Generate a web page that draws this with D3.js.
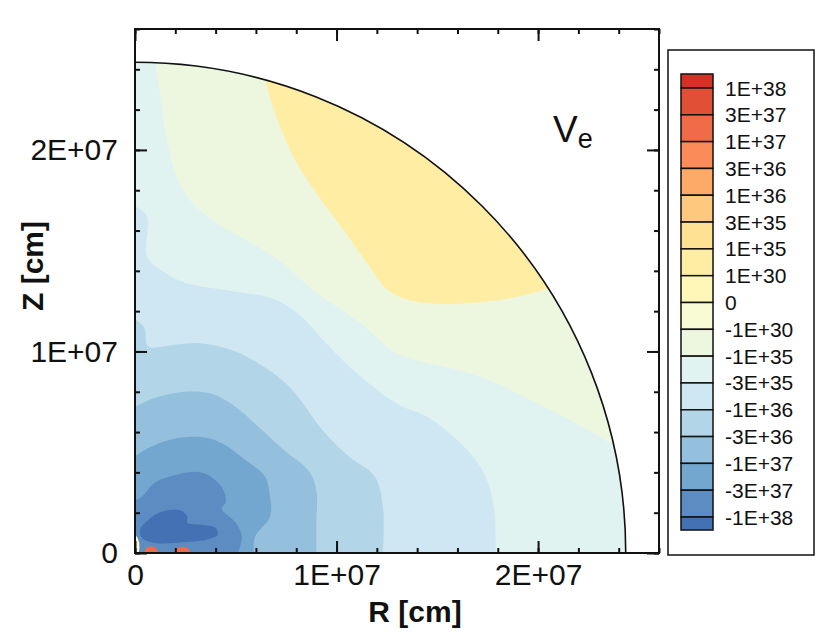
<!DOCTYPE html>
<html>
<head>
<meta charset="utf-8">
<script src="https://cdnjs.cloudflare.com/ajax/libs/d3/7.8.5/d3.min.js"></script>
<style>
body { margin: 0; background: #fff; }
text { font-family: "Liberation Sans", Arial, sans-serif; fill: #111; }
</style>
</head>
<body>
<script>
var w = 830;
var h = 636;

// colour bar levels, top to bottom
var levelLabels = ["1E+38", "3E+37", "1E+37", "3E+36", "1E+36", "3E+35", "1E+35", "1E+30", "0",
    "-1E+30", "-1E+35", "-3E+35", "-1E+36", "-3E+36", "-1E+37", "-3E+37", "-1E+38"];
// 18 bands: above the first level, between levels, below the last level
var bandColors = ["#d73027", "#e24f37", "#f16b48", "#fb8b58", "#fdaa69", "#fec87e", "#fee192",
    "#feeda3", "#fff7b8", "#f8fbd3", "#edf7e0", "#e1f3f1", "#cfe7f2", "#b3d5e8", "#94c0dd",
    "#74a7cf", "#5c8cc1", "#4471b4"];

var xTicks = [0, 1e7, 2e7];
var yTicks = [0, 1e7, 2e7];
var tickLabels = ["0", "1E+07", "2E+07"];

// outer boundary of the grid (1E+06 cm)
var rMax = 24.35;

// contour lines, [R, Z] in 1E+06 cm
// zero line: yellow (1E+30..1E+35) lies to the upper right
var lineZero = [[6.45, 23.5], [7.1, 21.4], [8.0, 19.4], [9.1, 17.7], [10.3, 16.1], [11.5, 14.4],
    [12.6, 13.0], [13.8, 12.5], [15.4, 12.35], [17.2, 12.45], [18.9, 12.7], [20.4, 13.1]];
// -1E+35: green lies to the upper right
var lineM1e35 = [[1.0, 24.3], [1.3, 22.5], [1.5, 21.0], [2.1, 18.6], [3.0, 17.2], [4.5, 16.1],
    [6.1, 15.2], [7.3, 14.4], [8.9, 13.0], [11.2, 11.4], [13.0, 9.9], [14.6, 9.4], [16.3, 9.0],
    [18.0, 8.4], [19.6, 7.6], [21.6, 6.6], [23.5, 5.5]];
// negative levels closing round the origin
var lineM3e35 = [[0, 17.2], [0.6, 16.7], [0.6, 14.7], [1.5, 13.9], [2.5, 13.4], [4.8, 13.0],
    [6.9, 12.6], [8.3, 11.7], [9.3, 10.6], [10.8, 9.1], [13.0, 7.4], [14.6, 6.7], [16.3, 5.3],
    [17.3, 4.0], [17.8, 2.3], [17.9, 0]];
var lineM1e36 = [[0, 11.6], [0.45, 11.2], [0.65, 10.25], [1.4, 10.25], [2.1, 10.35], [3.3, 10.4],
    [5.0, 10.0], [6.6, 9.1], [7.8, 8.1], [9.3, 6.1], [10.6, 4.8], [11.9, 3.8], [12.3, 2.3], [12.3, 0]];
var lineM3e36 = [[0, 7.25], [1.0, 7.7], [2.5, 8.0], [3.8, 7.9], [5.0, 7.25], [6.3, 6.1],
    [7.4, 5.1], [8.6, 4.1], [9.0, 3.1], [9.0, 1.5], [9.0, 0]];
var lineM1e37 = [[0, 4.8], [0.85, 5.3], [2.1, 5.7], [3.3, 5.75], [4.3, 5.45], [5.5, 4.6],
    [6.45, 3.8], [6.7, 2.8], [6.7, 1.8], [5.95, 0.8], [5.9, 0]];
var lineM3e37 = [[0, 2.6], [0.35, 2.8], [1.0, 3.5], [2.1, 3.9], [3.3, 4.0], [4.0, 3.6],
    [4.4, 3.1], [4.5, 2.5], [4.3, 2.2], [5.0, 1.5], [5.3, 0.8], [5.1, 0]];
var lineM1e38 = [[0.25, 1.15], [0.85, 1.8], [1.5, 2.1], [2.3, 2.1], [2.6, 1.8], [2.6, 1.5],
    [3.3, 1.4], [4.0, 1.25], [4.1, 0.9], [3.5, 0.65], [2.5, 0.55], [1.0, 0.5], [0.35, 0.75]];

// small spots on the equator near the centre: [R, Z, half width, half height] in 1E+06 cm
var spotR = [0.0, 0.8, 2.35];
var spotZ = [0.3, 0.05, 0.05];
var spotW = [0.22, 0.32, 0.38];
var spotH = [0.55, 0.28, 0.25];
var spotBand = [9, 2, 2];

drawChart();

function drawChart() {
    var svg = d3.select("body").append("svg")
        .attr("width", w)
        .attr("height", h);

    var x = d3.scaleLinear().domain([0, 2.6e7]).range([135, 659]);
    var y = d3.scaleLinear().domain([0, 2.6e7]).range([553, 29]);
    var u = 1e6;

    // ---- clip to the quarter disc ----
    var rx = x(rMax * u) - x(0);
    var ry = y(0) - y(rMax * u);
    var discPath = "M" + x(0) + "," + y(0) + "L" + x(0) + "," + y(rMax * u) +
        "A" + rx + "," + ry + " 0 0 1 " + x(rMax * u) + "," + y(0) + "Z";

    svg.append("clipPath").attr("id", "disc")
        .append("path").attr("d", discPath);

    var g = svg.append("g").attr("clip-path", "url(#disc)");

    var line = d3.line()
        .x(function (d) { return x(d[0] * u); })
        .y(function (d) { return y(d[1] * u); })
        .curve(d3.curveCatmullRom.alpha(0.5));

    function pt(r, z) { return x(r * u) + "," + y(z * u); }

    // base band (-3E+35 .. -1E+35)
    g.append("path").attr("d", discPath).attr("fill", bandColors[11]);

    // bands opening to the outer edge
    function outerBand(pts, band) {
        var a = pts[0], b = pts[pts.length - 1];
        g.append("path")
            .attr("d", line(pts) + "L" + pt(30, b[1]) + "L" + pt(30, 30) + "L" + pt(a[0], 30) + "Z")
            .attr("fill", bandColors[band]);
    }
    outerBand(lineM1e35, 10);
    outerBand(lineZero, 7);

    // bands closing round the origin
    function innerBand(pts, band) {
        g.append("path")
            .attr("d", line(pts) + "L" + pt(0, 0) + "Z")
            .attr("fill", bandColors[band]);
    }
    innerBand(lineM3e35, 12);
    innerBand(lineM1e36, 13);
    innerBand(lineM3e36, 14);
    innerBand(lineM1e37, 15);
    innerBand(lineM3e37, 16);

    g.append("path")
        .attr("d", d3.line()
            .x(function (d) { return x(d[0] * u); })
            .y(function (d) { return y(d[1] * u); })
            .curve(d3.curveCatmullRomClosed.alpha(0.5))(lineM1e38))
        .attr("fill", bandColors[17]);

    spotR.forEach(function (r, i) {
        g.append("ellipse")
            .attr("cx", x(r * u))
            .attr("cy", y(spotZ[i] * u))
            .attr("rx", x(spotW[i] * u) - x(0))
            .attr("ry", y(0) - y(spotH[i] * u))
            .attr("fill", bandColors[spotBand[i]]);
    });

    // outer boundary line
    svg.append("path")
        .attr("d", "M" + x(0) + "," + y(rMax * u) +
            "A" + rx + "," + ry + " 0 0 1 " + x(rMax * u) + "," + y(0))
        .attr("fill", "none")
        .attr("stroke", "#111")
        .attr("stroke-width", 1.6);

    // ---- axes, ticks inward on all four sides ----
    var minor = d3.range(0, 2.6e7 + 1, 2e6);
    function fmt(d) { return tickLabels[xTicks.indexOf(d)]; }

    function addAxis(axis, tx, ty, labels) {
        var a = svg.append("g").attr("transform", "translate(" + tx + "," + ty + ")");
        a.call(axis.tickValues(minor).tickSize(-5).tickFormat(""));
        var b = svg.append("g").attr("transform", "translate(" + tx + "," + ty + ")");
        b.call(axis.tickValues(xTicks).tickSize(-12).tickFormat(labels ? fmt : ""));
        [a, b].forEach(function (s) {
            s.select(".domain").remove();
            s.selectAll("line").attr("stroke", "#111").attr("stroke-width", 2);
        });
        b.selectAll("text")
            .attr("font-size", 30)
            .attr("font-family", "Liberation Sans, Arial, sans-serif")
            .attr("fill", "#111");
        return b;
    }
    addAxis(d3.axisBottom(x).tickPadding(11), 0, 553, true);
    addAxis(d3.axisTop(x), 0, 29, false);
    addAxis(d3.axisLeft(y).tickPadding(17), 135, 0, true);
    addAxis(d3.axisRight(y), 659, 0, false);

    svg.append("rect")
        .attr("x", 135).attr("y", 29)
        .attr("width", 524).attr("height", 524)
        .attr("fill", "none")
        .attr("stroke", "#111")
        .attr("stroke-width", 2);

    // ---- axis titles ----
    svg.append("text")
        .text("R [cm]")
        .attr("x", 415).attr("y", 622)
        .attr("text-anchor", "middle")
        .attr("font-size", 30)
        .attr("font-weight", "bold");

    svg.append("text")
        .text("Z [cm]")
        .attr("transform", "translate(43,266) rotate(-90)")
        .attr("text-anchor", "middle")
        .attr("font-size", 30)
        .attr("font-weight", "bold");

    // ---- variable label ----
    var lab = svg.append("text").attr("x", 553).attr("y", 142).attr("font-size", 37);
    lab.append("tspan").text("V");
    lab.append("tspan").text("e").attr("font-size", 27).attr("dy", 6);

    // ---- colour bar ----
    svg.append("rect")
        .attr("x", 668).attr("y", 50)
        .attr("width", 146).attr("height", 505)
        .attr("fill", "none")
        .attr("stroke", "#111")
        .attr("stroke-width", 1.5);

    var cb = d3.scaleLinear().domain([0, levelLabels.length - 1]).range([88, 517]);
    var bandTop = function (i) { return i === 0 ? 74 : cb(i - 1); };
    var bandBot = function (i) { return i === bandColors.length - 1 ? 530 : cb(i); };

    svg.append("g").selectAll("rect")
        .data(bandColors)
        .join("rect")
        .attr("x", 681)
        .attr("y", function (d, i) { return bandTop(i); })
        .attr("width", 32)
        .attr("height", function (d, i) { return bandBot(i) - bandTop(i); })
        .attr("fill", function (d) { return d; })
        .attr("stroke", "#111")
        .attr("stroke-width", 1.5);

    svg.append("g").selectAll("text")
        .data(levelLabels)
        .join("text")
        .text(function (d) { return d; })
        .attr("x", 725)
        .attr("y", function (d, i) { return cb(i); })
        .attr("dy", "0.36em")
        .attr("font-size", 21);
}
</script>
</body>
</html>
